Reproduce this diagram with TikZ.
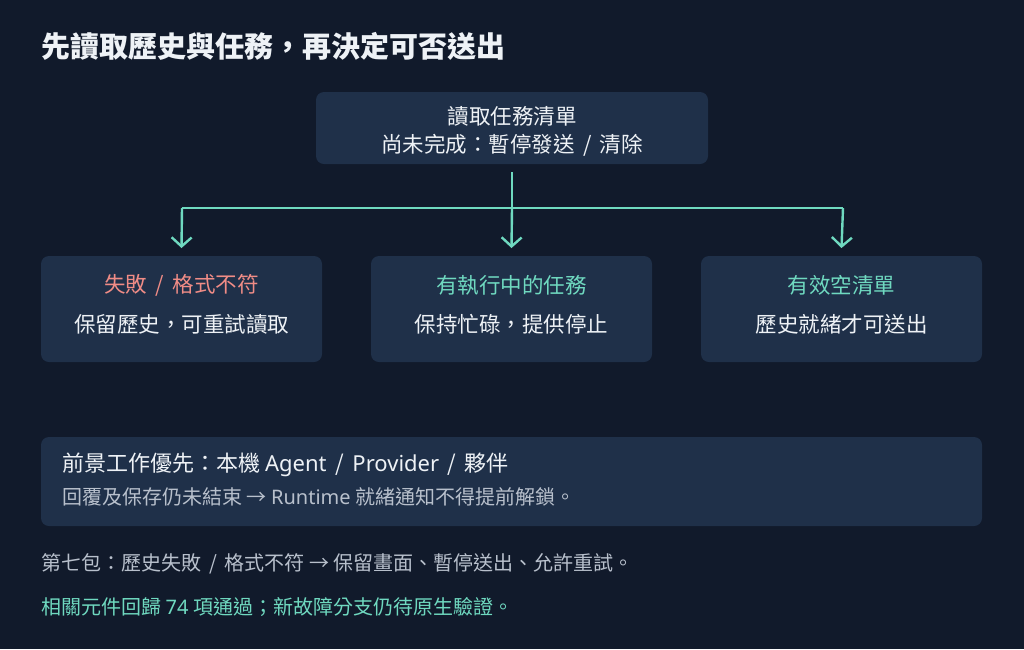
\documentclass[tikz,border=0pt]{standalone}
\usepackage{fontspec}
\setmainfont{Noto Sans CJK TC}
\newfontfamily\lat{Noto Sans}
\usetikzlibrary{arrows.meta}
\definecolor{bg}{HTML}{111A2B}
\definecolor{box}{HTML}{1F3049}
\definecolor{teal}{HTML}{6FD9C0}
\definecolor{red}{HTML}{F08C86}
\definecolor{grey}{HTML}{B8C0CC}
\definecolor{wht}{HTML}{EEF2F6}
\tikzset{
 bx/.style={fill=box,rounded corners=8pt,draw=none},
 t/.style={text=wht,font=\fontsize{21.5}{23}\selectfont,inner sep=0pt},
 arr/.style={draw=teal,line width=2.4pt,-{Straight Barb[length=9pt,width=20pt,line width=2.4pt]}},
 ln/.style={draw=teal,line width=2.4pt}
}
\begin{document}
\begin{tikzpicture}[x=1pt,y=-1pt]
\fill[bg] (0,0) rectangle (1024,649);
\useasboundingbox (0,0) rectangle (1024,649);
\node[t,anchor=west,font=\bfseries\fontsize{29}{31}\selectfont] (title) at (41,46) {先讀取歷史與任務，再決定可否送出};
\fill[bx] (316,92) rectangle (708,164);
\node[t] (top1) at (512,116) {讀取任務清單};
\node[t] (top2) at (512,145) {尚未完成：暫停發送 \,/\, 清除};
\coordinate (s) at (512,172);
\coordinate (j) at (512,208);
\coordinate (l) at (182,208);
\coordinate (r) at (843,208);
\foreach \x/\n/\c/\a/\b in {41/a/red/{失敗 \,/\, 格式不符}/保留歷史，可重試讀取, 371/b/teal/有執行中的任務/保持忙碌，提供停止, 701/c/teal/有效空清單/歷史就緒才可送出}{
 \fill[bx] (\x,256) rectangle ++(281,106);
 \node[t,text=\c] (\n1) at (\x+140.5,285) {\a};
 \node[t] (\n2) at (\x+140.5,324) {\b};
 \coordinate (\n) at (\x+140.5,248);
}
\draw[ln] (s) -- (j);
\draw[ln] (l) -- (r);
\draw[arr] (l) -- (a);
\draw[arr] (j) -- (b);
\draw[arr] (r) -- (c);
\fill[bx] (41,437) rectangle (982,526);
\node[t,anchor=west,font=\fontsize{22}{24}\selectfont] (n1) at (62,465) {前景工作優先：本機 {\lat Agent} \,/\, {\lat Provider} \,/\, 夥伴};
\node[t,anchor=west,text=grey,font=\fontsize{20}{22}\selectfont] (n2) at (62,497) {回覆及保存仍未結束 → {\lat Runtime} 就緒通知不得提前解鎖。};
\node[t,anchor=west,text=grey,font=\fontsize{20}{22}\selectfont] (f1) at (41,564) {第七包：歷史失敗 \,/\, 格式不符 → 保留畫面、暫停送出、允許重試。};
\node[t,anchor=west,text=teal,font=\fontsize{20}{22}\selectfont] (f2) at (41,607) {相關元件回歸 {\lat 74} 項通過；新故障分支仍待原生驗證。};
\end{tikzpicture}
\end{document}
